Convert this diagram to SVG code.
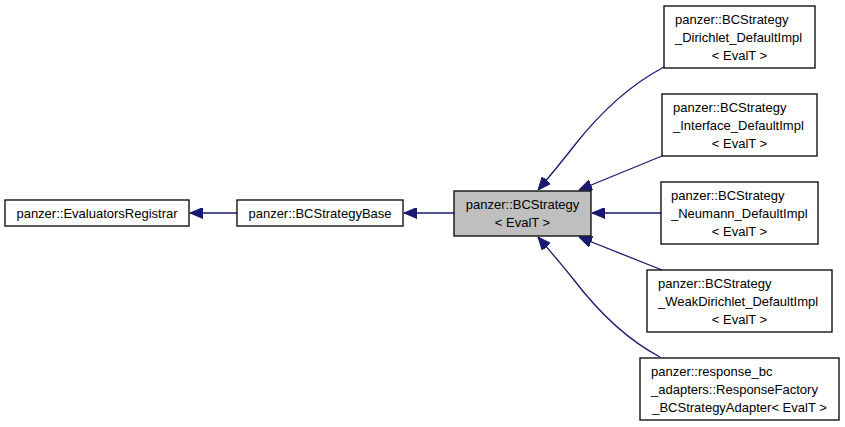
<svg xmlns="http://www.w3.org/2000/svg" width="845" height="427" viewBox="0 0 845 427">
<style>
  .box { fill: #ffffff; stroke: #000000; stroke-width: 1.3; }
  .cur { fill: #bfbfbf; stroke: #000000; stroke-width: 1.3; }
  text { font-family: "Liberation Sans", Arial, sans-serif; font-size: 13px; fill: #000000; }
  .m { text-anchor: middle; }
  .edge { fill: none; stroke: #191970; stroke-width: 1.3; marker-end: url(#arr); }
</style>
<defs>
  <marker id="arr" viewBox="0 0 13 11" refX="13" refY="5.5" markerUnits="userSpaceOnUse" markerWidth="13" markerHeight="11" orient="auto">
    <path d="M0,0 L13,5.5 L0,11 z" fill="#191970" stroke="#191970" stroke-width="1"/>
  </marker>
</defs>
<rect width="845" height="427" fill="#ffffff"/>
<g id="connectors">
  <path class="edge" d="M237,213 L190,213"/>
  <path class="edge" d="M454,213 L404,213"/>
  <path class="edge" d="M664,67 C628,86 599,114 574,146 C563,160 550,176 538,190"/>
  <path class="edge" d="M662,156 L579,190"/>
  <path class="edge" d="M661,213 L592,213"/>
  <path class="edge" d="M662,270 L579,237"/>
  <path class="edge" d="M660,357 C624,338 597,310 574,280 C563,266 550,251 538,237"/>
</g>
<g id="node-evaluatorsregistrar">
  <rect class="box" x="5" y="200" width="184" height="26"/>
  <text class="m" x="97" y="217.5">panzer::EvaluatorsRegistrar</text>
</g>
<g id="node-bcstrategybase">
  <rect class="box" x="237" y="200" width="166" height="26"/>
  <text class="m" x="320" y="217.5">panzer::BCStrategyBase</text>
</g>
<g id="node-bcstrategy">
  <rect class="cur" x="454" y="191" width="137" height="45"/>
  <text class="m" x="522.5" y="208.5">panzer::BCStrategy</text>
  <text class="m" x="522.5" y="226.5">&lt; EvalT &gt;</text>
</g>
<g id="node-dirichlet">
  <rect class="box" x="664" y="6" width="151" height="62"/>
  <text x="675" y="23.5">panzer::BCStrategy</text>
  <text x="675" y="41.5">_Dirichlet_DefaultImpl</text>
  <text class="m" x="739.5" y="59.5">&lt; EvalT &gt;</text>
</g>
<g id="node-interface">
  <rect class="box" x="662" y="94" width="155" height="62"/>
  <text x="673" y="111.5">panzer::BCStrategy</text>
  <text x="673" y="129.5">_Interface_DefaultImpl</text>
  <text class="m" x="739.5" y="147.5">&lt; EvalT &gt;</text>
</g>
<g id="node-neumann">
  <rect class="box" x="661" y="182" width="157" height="62"/>
  <text x="671" y="199.5">panzer::BCStrategy</text>
  <text x="671" y="217.5">_Neumann_DefaultImpl</text>
  <text class="m" x="739.5" y="235.5">&lt; EvalT &gt;</text>
</g>
<g id="node-weakdirichlet">
  <rect class="box" x="647" y="270" width="185" height="62"/>
  <text x="658" y="287.5">panzer::BCStrategy</text>
  <text x="658" y="305.5">_WeakDirichlet_DefaultImpl</text>
  <text class="m" x="739.5" y="323.5">&lt; EvalT &gt;</text>
</g>
<g id="node-responsefactory">
  <rect class="box" x="640" y="358" width="199" height="62"/>
  <text x="651" y="375.5">panzer::response_bc</text>
  <text x="651" y="393.5">_adapters::ResponseFactory</text>
  <text class="m" x="739.5" y="411.5">_BCStrategyAdapter&lt; EvalT &gt;</text>
</g>
</svg>
